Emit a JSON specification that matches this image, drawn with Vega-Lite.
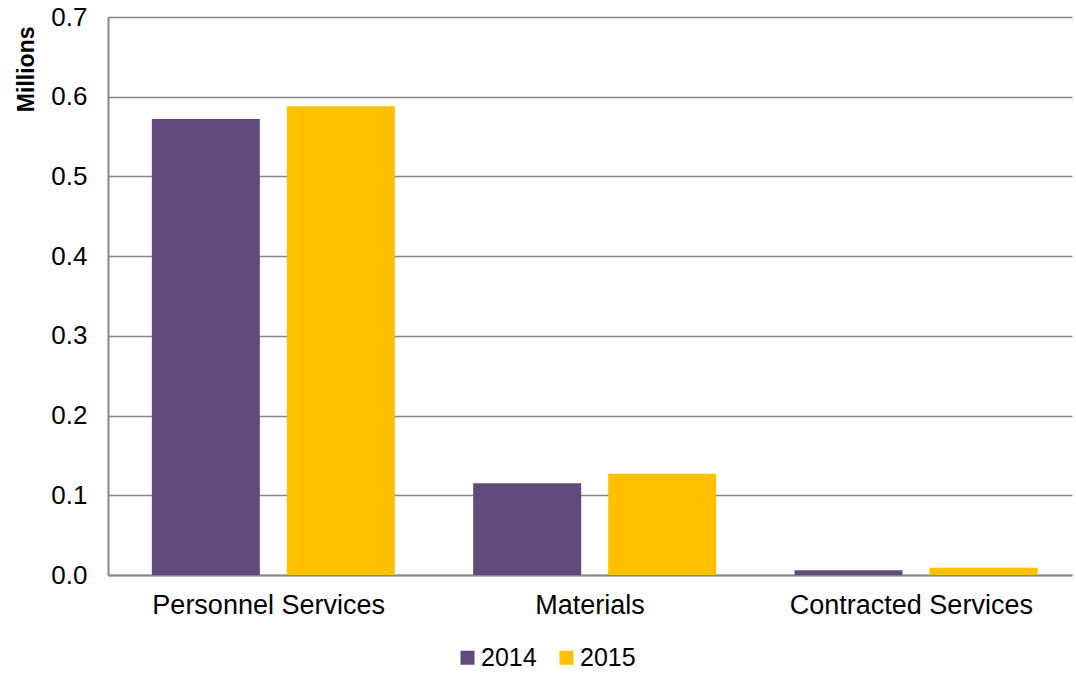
{
  "$schema": "https://vega.github.io/schema/vega-lite/v6.json",
  "width": 964,
  "height": 558,
  "autosize": {"type": "none"},
  "padding": {"left": 108, "top": 17, "right": 4, "bottom": 98},
  "background": "white",
  "data": {"values": [
    {"category": "Personnel Services", "year": "2014", "value": 0.572},
    {"category": "Personnel Services", "year": "2015", "value": 0.588},
    {"category": "Materials", "year": "2014", "value": 0.115},
    {"category": "Materials", "year": "2015", "value": 0.127},
    {"category": "Contracted Services", "year": "2014", "value": 0.006},
    {"category": "Contracted Services", "year": "2015", "value": 0.009}
  ]},
  "mark": {"type": "bar"},
  "encoding": {
    "x": {
      "field": "category", "type": "nominal",
      "sort": ["Personnel Services", "Materials", "Contracted Services"],
      "scale": {"paddingInner": 0, "paddingOuter": 0},
      "axis": {"title": null, "labelAngle": 0, "ticks": false, "labelPadding": 17, "grid": false, "labelFontSize": 27, "labelLimit": 400, "labelFont": "Liberation Sans", "labelColor": "#000000"}
    },
    "xOffset": {
      "field": "year", "type": "nominal",
      "scale": {"paddingInner": 0.2, "paddingOuter": 0.29, "align": 0.56}
    },
    "y": {
      "field": "value", "type": "quantitative",
      "scale": {"domain": [0, 0.7], "nice": false},
      "axis": {"title": "Millions", "format": ".1f", "values": [0, 0.1, 0.2, 0.3, 0.4, 0.5, 0.6, 0.7], "ticks": false, "labelPadding": 21, "labelFontSize": 26, "labelFont": "Liberation Sans", "labelColor": "#000000",
        "titleFont": "Liberation Sans", "titleFontWeight": "bold", "titleFontSize": 23, "titleColor": "#000000",
        "titleAngle": -90, "titleAlign": "right", "titleBaseline": "alphabetic", "titleX": -75, "titleY": 9}
    },
    "color": {
      "field": "year", "type": "nominal",
      "scale": {"domain": ["2014", "2015"], "range": ["#604A7B", "#FFC000"]},
      "legend": {"title": null, "orient": "none", "direction": "horizontal", "legendX": 347, "legendY": 628, "symbolType": "square", "symbolSize": 196, "symbolStrokeWidth": 0, "labelFontSize": 25, "labelFont": "Liberation Sans", "labelColor": "#000000", "columnPadding": 17, "labelOffset": 1}
    }
  },
  "config": {
    "font": "Liberation Sans",
    "view": {"stroke": null},
    "axis": {
      "domainColor": "#868686", "domainWidth": 2, "gridColor": "#868686", "gridWidth": 1.5
    }
  }
}
